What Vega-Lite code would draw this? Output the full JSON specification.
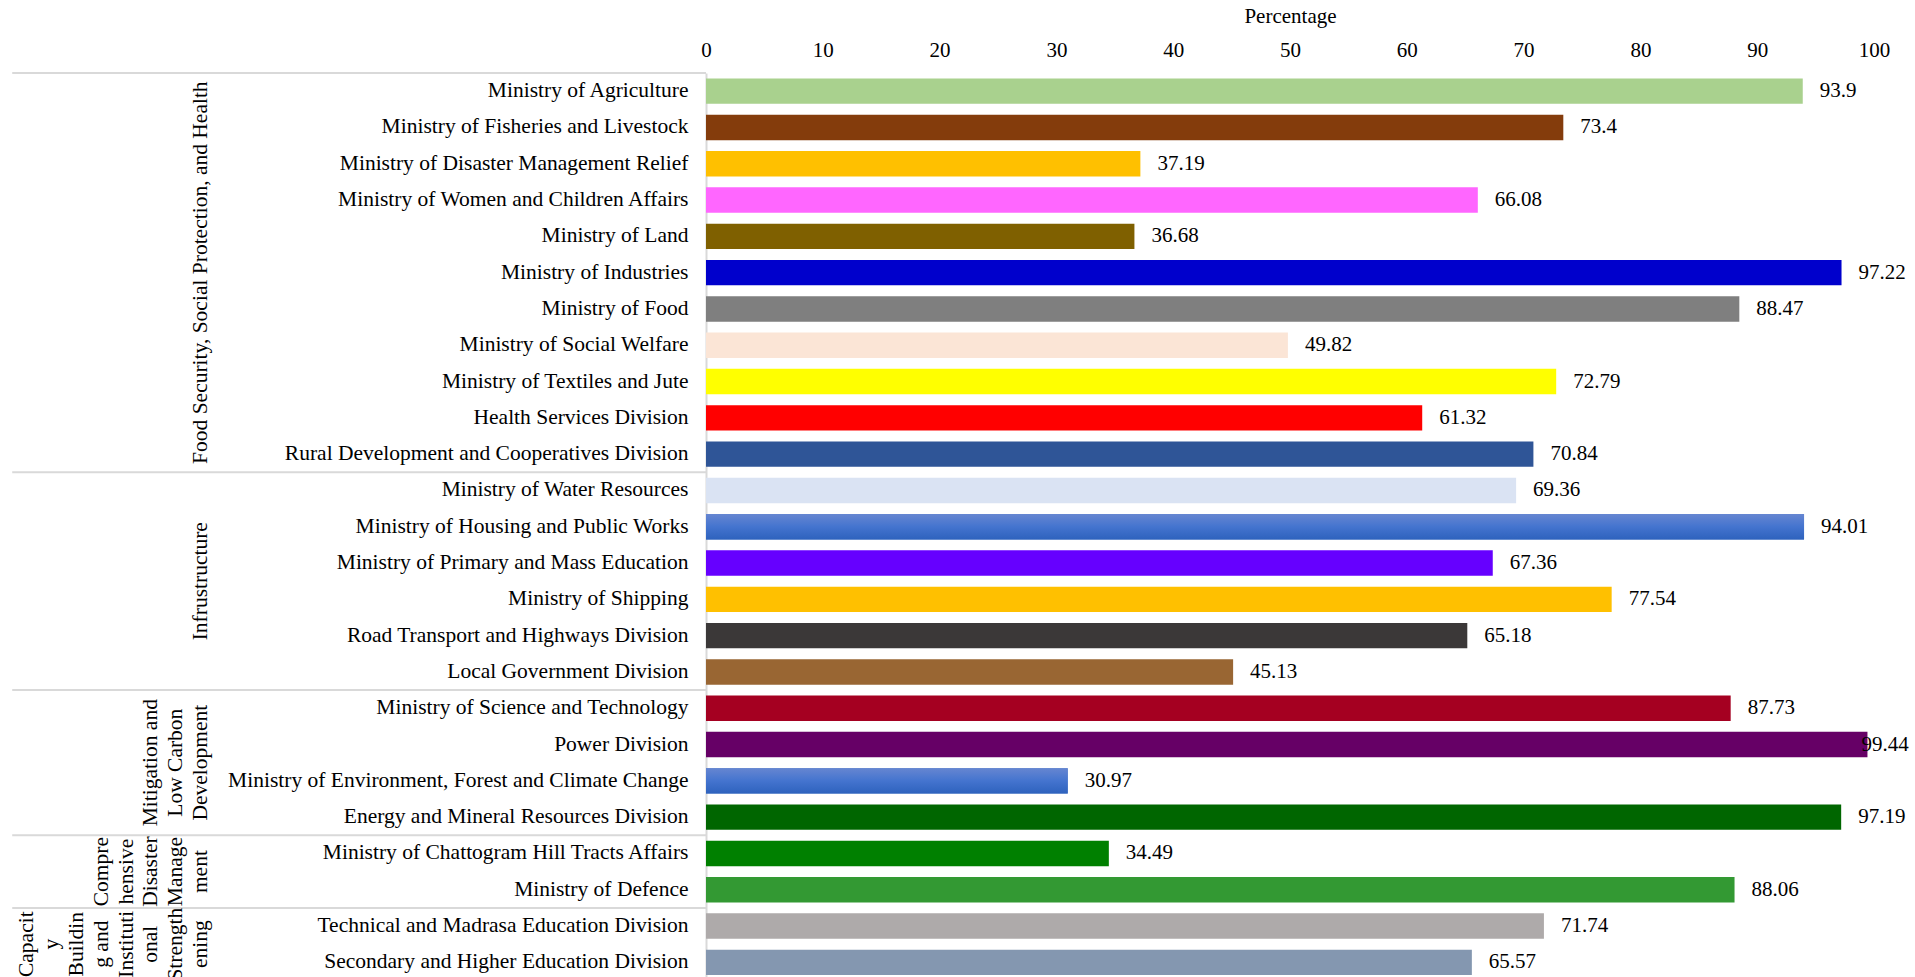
{
  "$schema": "https://vega.github.io/schema/vega-lite/v6.json",
  "autosize": {"type": "none"},
  "padding": {"left": 706, "top": 73, "right": 41, "bottom": 0},
  "width": 1168,
  "height": 907.5,
  "background": "white",
  "config": {
    "font": "Liberation Serif",
    "view": {"stroke": null},
    "axis": {"grid": false, "labelFont": "Liberation Serif", "titleFont": "Liberation Serif", "labelColor": "#000000", "titleColor": "#000000"}
  },
  "datasets": {
    "ministries": [
      {"ministry": "Ministry of Agriculture", "group": "Food Security, Social Protection, and Health", "value": 93.9},
      {"ministry": "Ministry of Fisheries and Livestock", "group": "Food Security, Social Protection, and Health", "value": 73.4},
      {"ministry": "Ministry of Disaster Management Relief", "group": "Food Security, Social Protection, and Health", "value": 37.19},
      {"ministry": "Ministry of Women and Children Affairs", "group": "Food Security, Social Protection, and Health", "value": 66.08},
      {"ministry": "Ministry of Land", "group": "Food Security, Social Protection, and Health", "value": 36.68},
      {"ministry": "Ministry of Industries", "group": "Food Security, Social Protection, and Health", "value": 97.22},
      {"ministry": "Ministry of Food", "group": "Food Security, Social Protection, and Health", "value": 88.47},
      {"ministry": "Ministry of Social Welfare", "group": "Food Security, Social Protection, and Health", "value": 49.82},
      {"ministry": "Ministry of Textiles and Jute", "group": "Food Security, Social Protection, and Health", "value": 72.79},
      {"ministry": "Health Services Division", "group": "Food Security, Social Protection, and Health", "value": 61.32},
      {"ministry": "Rural Development and Cooperatives Division", "group": "Food Security, Social Protection, and Health", "value": 70.84},
      {"ministry": "Ministry of Water Resources", "group": "Infrustructure", "value": 69.36},
      {"ministry": "Ministry of Housing and Public Works", "group": "Infrustructure", "value": 94.01},
      {"ministry": "Ministry of Primary and Mass Education", "group": "Infrustructure", "value": 67.36},
      {"ministry": "Ministry of Shipping", "group": "Infrustructure", "value": 77.54},
      {"ministry": "Road Transport and Highways Division", "group": "Infrustructure", "value": 65.18},
      {"ministry": "Local Government Division", "group": "Infrustructure", "value": 45.13},
      {"ministry": "Ministry of Science and Technology", "group": "Mitigation and Low Carbon Development", "value": 87.73},
      {"ministry": "Power Division", "group": "Mitigation and Low Carbon Development", "value": 99.44},
      {"ministry": "Ministry of Environment, Forest and Climate Change", "group": "Mitigation and Low Carbon Development", "value": 30.97},
      {"ministry": "Energy and Mineral Resources Division", "group": "Mitigation and Low Carbon Development", "value": 97.19},
      {"ministry": "Ministry of Chattogram Hill Tracts Affairs", "group": "Comprehensive Disaster Management", "value": 34.49},
      {"ministry": "Ministry of Defence", "group": "Comprehensive Disaster Management", "value": 88.06},
      {"ministry": "Technical and Madrasa Education Division", "group": "Capacity Building and Institutional Strengthening", "value": 71.74},
      {"ministry": "Secondary and Higher Education Division", "group": "Capacity Building and Institutional Strengthening", "value": 65.57}
    ],
    "groups": [
      {"group": "Food Security, Social Protection, and Health", "lines": ["Food Security, Social Protection, and Health"], "first": "Ministry of Agriculture", "middle": "Ministry of Industries"},
      {"group": "Infrustructure", "lines": ["Infrustructure"], "first": "Ministry of Water Resources", "middle": "Ministry of Shipping"},
      {"group": "Mitigation and Low Carbon Development", "lines": ["Mitigation and", "Low Carbon", "Development"], "first": "Ministry of Science and Technology", "middle": "Ministry of Environment, Forest and Climate Change"},
      {"group": "Comprehensive Disaster Management", "lines": ["Compre", "hensive", "Disaster", "Manage", "ment"], "first": "Ministry of Chattogram Hill Tracts Affairs", "middle": "Ministry of Defence"},
      {"group": "Capacity Building and Institutional Strengthening", "lines": ["Capacit", "y", "Buildin", "g and", "Instituti", "onal", "Strength", "ening"], "first": "Technical and Madrasa Education Division", "middle": "Secondary and Higher Education Division"}
    ]
  },
  "layer": [
    {
      "data": {"name": "ministries"},
      "mark": {"type": "bar", "height": {"band": 0.7}},
      "encoding": {
        "y": {
          "field": "ministry", "type": "nominal", "sort": null,
          "scale": {
            "domain": ["Ministry of Agriculture", "Ministry of Fisheries and Livestock", "Ministry of Disaster Management Relief", "Ministry of Women and Children Affairs", "Ministry of Land", "Ministry of Industries", "Ministry of Food", "Ministry of Social Welfare", "Ministry of Textiles and Jute", "Health Services Division", "Rural Development and Cooperatives Division", "Ministry of Water Resources", "Ministry of Housing and Public Works", "Ministry of Primary and Mass Education", "Ministry of Shipping", "Road Transport and Highways Division", "Local Government Division", "Ministry of Science and Technology", "Power Division", "Ministry of Environment, Forest and Climate Change", "Energy and Mineral Resources Division", "Ministry of Chattogram Hill Tracts Affairs", "Ministry of Defence", "Technical and Madrasa Education Division", "Secondary and Higher Education Division"],
            "paddingInner": 0, "paddingOuter": 0
          },
          "axis": {"title": null, "ticks": false, "tickSize": 0, "labelFontSize": 21.5, "labelPadding": 18, "labelLimit": 700, "domainColor": "#d9d9d9", "domainWidth": 2}
        },
        "x": {
          "field": "value", "type": "quantitative",
          "scale": {"domain": [0, 100], "nice": false, "zero": true},
          "axis": {"orient": "top", "title": "Percentage", "values": [0, 10, 20, 30, 40, 50, 60, 70, 80, 90, 100], "domain": false, "ticks": false, "tickSize": 0, "labelFontSize": 21, "labelPadding": 13, "titleFontSize": 21, "titleFontWeight": "normal", "titlePadding": 13, "labelFlush": false}
        },
        "color": {
          "field": "ministry", "type": "nominal", "legend": null,
          "scale": {
            "domain": ["Ministry of Agriculture", "Ministry of Fisheries and Livestock", "Ministry of Disaster Management Relief", "Ministry of Women and Children Affairs", "Ministry of Land", "Ministry of Industries", "Ministry of Food", "Ministry of Social Welfare", "Ministry of Textiles and Jute", "Health Services Division", "Rural Development and Cooperatives Division", "Ministry of Water Resources", "Ministry of Housing and Public Works", "Ministry of Primary and Mass Education", "Ministry of Shipping", "Road Transport and Highways Division", "Local Government Division", "Ministry of Science and Technology", "Power Division", "Ministry of Environment, Forest and Climate Change", "Energy and Mineral Resources Division", "Ministry of Chattogram Hill Tracts Affairs", "Ministry of Defence", "Technical and Madrasa Education Division", "Secondary and Higher Education Division"],
            "range": ["#a9d18e", "#843c0c", "#ffc000", "#ff66ff", "#7f6000", "#0000cc", "#7f7f7f", "#fbe5d6", "#ffff00", "#ff0000", "#2f5597", "#dae3f3", "#4472c4", "#6600ff", "#ffc000", "#3b3838", "#996633", "#a50021", "#660066", "#4472c4", "#006600", "#008000", "#339933", "#aeaaaa", "#8497b0"]
          }
        }
      }
    },
    {
      "data": {"name": "ministries"},
      "transform": [{"filter": "datum.ministry === 'Ministry of Housing and Public Works' || datum.ministry === 'Ministry of Environment, Forest and Climate Change'"}],
      "mark": {"type": "bar", "height": {"band": 0.7}, "color": {"gradient": "linear", "x1": 0, "y1": 0, "x2": 0, "y2": 1, "stops": [{"offset": 0, "color": "#6686d1"}, {"offset": 0.5, "color": "#4474cf"}, {"offset": 1, "color": "#2e62bd"}]}},
      "encoding": {
        "y": {"field": "ministry", "type": "nominal", "sort": null},
        "x": {"field": "value", "type": "quantitative"}
      }
    },
    {
      "data": {"name": "ministries"},
      "transform": [{"filter": "datum.value < 99"}],
      "mark": {"type": "text", "align": "left", "baseline": "middle", "dx": 17, "fontSize": 21, "color": "#000000"},
      "encoding": {
        "y": {"field": "ministry", "type": "nominal", "sort": null},
        "x": {"field": "value", "type": "quantitative"},
        "text": {"field": "value", "type": "quantitative"}
      }
    },
    {
      "data": {"name": "ministries"},
      "transform": [{"filter": "datum.value >= 99"}],
      "mark": {"type": "text", "align": "left", "baseline": "middle", "dx": -6, "fontSize": 21, "color": "#000000"},
      "encoding": {
        "y": {"field": "ministry", "type": "nominal", "sort": null},
        "x": {"field": "value", "type": "quantitative"},
        "text": {"field": "value", "type": "quantitative"}
      }
    },
    {
      "data": {"name": "groups"},
      "mark": {"type": "rule", "color": "#d9d9d9", "strokeWidth": 2},
      "encoding": {
        "y": {"field": "first", "type": "nominal", "sort": null, "bandPosition": 0},
        "x": {"datum": -59.4},
        "x2": {"datum": 0}
      }
    },
    {
      "data": {"name": "groups"},
      "transform": [{"filter": "datum.group === 'Food Security, Social Protection, and Health'"}],
      "mark": {"type": "text", "angle": 270, "align": "center", "baseline": "bottom", "fontSize": 21.5, "lineHeight": 24.8, "color": "#000000", "dy": {"expr": "-(length(datum.lines) - 1) * 24.8"}},
      "encoding": {
        "y": {"field": "middle", "type": "nominal", "sort": null, "bandPosition": 0.5},
        "x": {"datum": -42.3},
        "text": {"field": "lines", "type": "nominal"}
      }
    },
    {
      "data": {"name": "groups"},
      "transform": [{"filter": "datum.group !== 'Food Security, Social Protection, and Health'"}],
      "mark": {"type": "text", "angle": 270, "align": "center", "baseline": "bottom", "fontSize": 21.5, "lineHeight": 24.8, "color": "#000000", "dy": {"expr": "-(length(datum.lines) - 1) * 24.8"}},
      "encoding": {
        "y": {"field": "middle", "type": "nominal", "sort": null, "bandPosition": 0},
        "x": {"datum": -42.3},
        "text": {"field": "lines", "type": "nominal"}
      }
    }
  ]
}
